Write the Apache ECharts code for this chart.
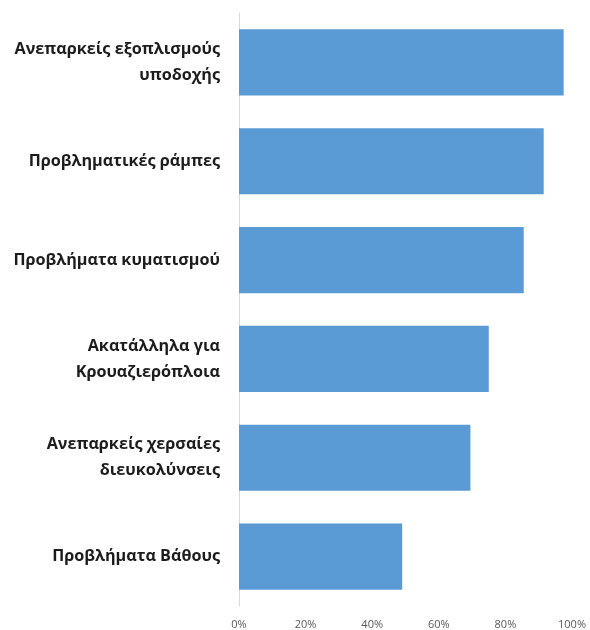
<!DOCTYPE html>
<html>
<head>
<meta charset="utf-8">
<script src="https://cdn.jsdelivr.net/npm/echarts@6/dist/echarts.min.js"></script>
<style>
  html, body { margin: 0; padding: 0; background: #fff; }
  #chart { width: 590px; height: 630px; }
</style>
</head>
<body>
<div id="chart"></div>
<script>
// Categories listed top to bottom
const categories = [
  'Ανεπαρκείς εξοπλισμούς\nυποδοχής',
  'Προβληματικές ράμπες',
  'Προβλήματα κυματισμού',
  'Ακατάλληλα για\nΚρουαζιερόπλοια',
  'Ανεπαρκείς χερσαίες\nδιευκολύνσεις',
  'Προβλήματα Βάθους'
];
// Share of responses (fraction)
const values = [0.975, 0.915, 0.855, 0.75, 0.695, 0.49];
const ticks = [0, 0.2, 0.4, 0.6, 0.8, 1.0];

const chart = echarts.init(document.getElementById('chart'));
chart.setOption({
  animation: false,
  grid: { left: 239, right: 18, top: 13, bottom: 23, containLabel: false },
  xAxis: {
    type: 'value',
    min: ticks[0],
    max: ticks[ticks.length - 1],
    interval: ticks[1] - ticks[0],
    axisLine: { show: false },
    axisTick: { show: false },
    splitLine: { show: false },
    axisLabel: {
      margin: 13,
      color: '#595959',
      fontFamily: 'Open Sans',
      fontSize: 11,
      formatter: v => Math.round(v * 100) + '%'
    }
  },
  yAxis: {
    type: 'category',
    inverse: true,
    data: categories,
    axisLine: { show: true, lineStyle: { color: '#d9d9d9', width: 1 } },
    axisTick: { show: false },
    axisLabel: {
      margin: 19,
      color: '#1c1c1c',
      fontFamily: 'Open Sans',
      fontWeight: 'bold',
      fontSize: 16.2,
      lineHeight: 26,
      align: 'right'
    }
  },
  series: [{
    type: 'bar',
    data: values,
    barCategoryGap: '33%',
    itemStyle: { color: '#5b9bd5' }
  }]
});
</script>
</body>
</html>
